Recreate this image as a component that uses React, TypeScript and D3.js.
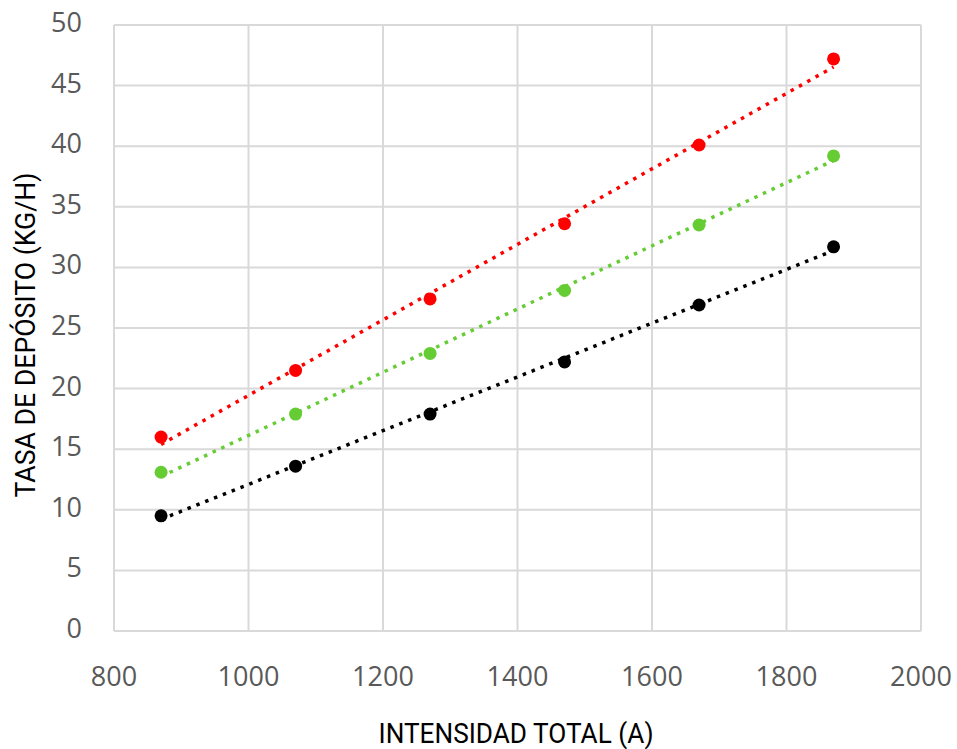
import React, { useEffect, useRef } from 'react';
import * as d3 from 'd3';

// corriente total (A)
const intensidad = [870, 1070, 1270, 1470, 1670, 1870];

// tasa de depósito (kg/h) por serie
const serieRoja = [16.0, 21.5, 27.4, 33.6, 40.1, 47.2];
const serieVerde = [13.1, 17.9, 22.9, 28.1, 33.5, 39.2];
const serieNegra = [9.5, 13.6, 17.9, 22.2, 26.9, 31.7];

const xTicks = [800, 1000, 1200, 1400, 1600, 1800, 2000];
const yTicks = [0, 5, 10, 15, 20, 25, 30, 35, 40, 45, 50];

const series = [
  { name: 'roja', values: serieRoja, color: '#ff0000' },
  { name: 'verde', values: serieVerde, color: '#66cc33' },
  { name: 'negra', values: serieNegra, color: '#000000' },
];

// least squares fit, same as the spreadsheet trendline
const linearFit = (xs: number[], ys: number[]) => {
  const mx = d3.mean(xs)!;
  const my = d3.mean(ys)!;
  const num = d3.sum(xs, (x, i) => (x - mx) * (ys[i] - my));
  const den = d3.sum(xs, x => (x - mx) ** 2);
  const m = num / den;
  return (x: number) => my + m * (x - mx);
};

export default function App() {
  const ref = useRef<SVGSVGElement>(null);

  useEffect(() => {
    const width = 957;
    const height = 749;
    const left = 114, right = 921, top = 25, bottom = 631;

    const svg = d3.select(ref.current);
    svg.selectAll('*').remove();
    svg.attr('width', width).attr('height', height);

    const x = d3.scaleLinear().domain([800, 2000]).range([left, right]);
    const y = d3.scaleLinear().domain([0, 50]).range([bottom, top]);

    const grid = svg.append('g').attr('stroke', '#d9d9d9').attr('stroke-width', 2);
    grid.selectAll('line.h').data(yTicks).join('line')
      .attr('class', 'h')
      .attr('x1', left).attr('x2', right)
      .attr('y1', d => y(d)).attr('y2', d => y(d));
    grid.selectAll('line.v').data(xTicks).join('line')
      .attr('class', 'v')
      .attr('y1', top).attr('y2', bottom)
      .attr('x1', d => x(d)).attr('x2', d => x(d));

    const tickFont = '"Open Sans", "DejaVu Sans", sans-serif';

    svg.append('g').selectAll('text').data(yTicks).join('text')
      .attr('x', 82)
      .attr('y', d => y(d) + 7)
      .attr('text-anchor', 'end')
      .attr('font-family', tickFont)
      .attr('font-size', 27)
      .attr('fill', '#595959')
      .text(d => d);

    svg.append('g').selectAll('text').data(xTicks).join('text')
      .attr('x', d => x(d))
      .attr('y', 686)
      .attr('text-anchor', 'middle')
      .attr('font-family', tickFont)
      .attr('font-size', 27)
      .attr('fill', '#595959')
      .text(d => d);

    const titleFont = '"Liberation Sans Narrow", "Roboto", sans-serif';

    svg.append('text')
      .attr('x', 516).attr('y', 743)
      .attr('text-anchor', 'middle')
      .attr('font-family', titleFont)
      .attr('font-size', 28)
      .attr('fill', '#000')
      .attr('textLength', 275)
      .attr('lengthAdjust', 'spacingAndGlyphs')
      .text('INTENSIDAD TOTAL (A)');

    svg.append('text')
      .attr('transform', 'translate(35,335) rotate(-90)')
      .attr('text-anchor', 'middle')
      .attr('font-family', titleFont)
      .attr('font-size', 28)
      .attr('fill', '#000')
      .attr('textLength', 325)
      .attr('lengthAdjust', 'spacingAndGlyphs')
      .text('TASA DE DEPÓSITO (KG/H)');

    series.forEach(s => {
      const fit = linearFit(intensidad, s.values);
      const x0 = intensidad[0];
      const x1 = intensidad[intensidad.length - 1];
      svg.append('line')
        .attr('x1', x(x0)).attr('y1', y(fit(x0)))
        .attr('x2', x(x1)).attr('y2', y(fit(x1)))
        .attr('stroke', s.color)
        .attr('stroke-width', 3.5)
        .attr('stroke-dasharray', '3.5,6');

      svg.append('g').selectAll('circle').data(s.values).join('circle')
        .attr('cx', (d, i) => x(intensidad[i]))
        .attr('cy', d => y(d))
        .attr('r', 6.5)
        .attr('fill', s.color);
    });
  }, []);

  return <svg ref={ref} style={{ display: 'block', position: 'absolute', left: 0, top: 0 }} />;
}
